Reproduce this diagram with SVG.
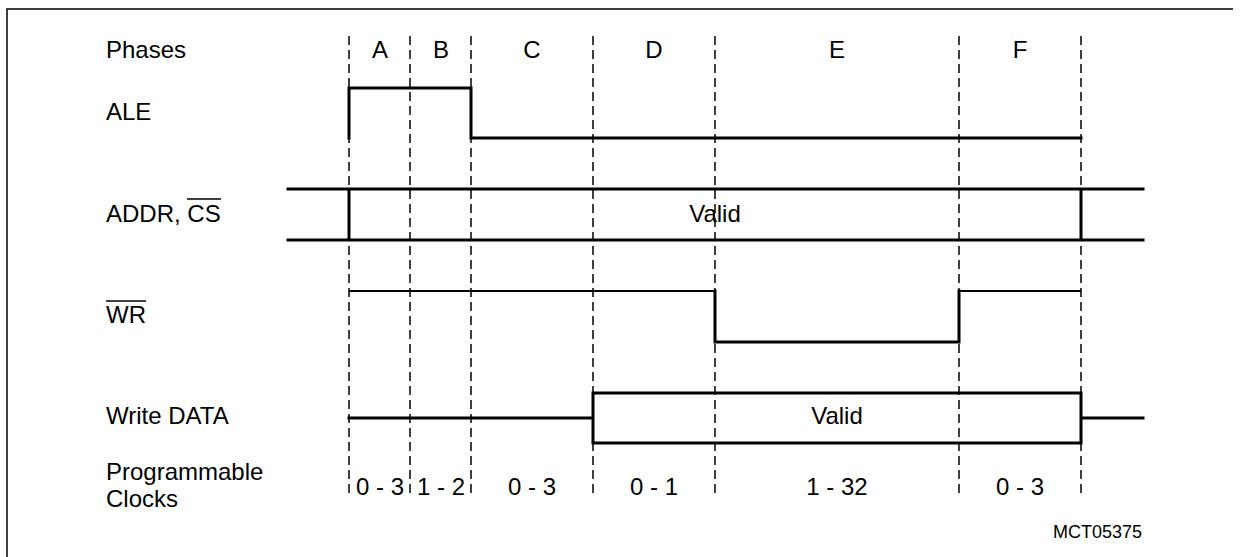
<svg xmlns="http://www.w3.org/2000/svg" width="1242" height="557" viewBox="0 0 1242 557">
<style>
text{font-family:"Liberation Sans",Arial,sans-serif;font-size:24px;fill:#000}
.c{text-anchor:middle}
.grid{stroke:#000;stroke-width:1.5;stroke-dasharray:9,5;fill:none}
.sig{stroke:#000;stroke-width:3;fill:none;stroke-linecap:square}
.thin{stroke:#000;stroke-width:2.2;fill:none}
.ov{stroke:#000;stroke-width:1.3}
</style>
<rect width="1242" height="557" fill="#fff"/>
<g id="frame"><path d="M7 557V9H1233" fill="none" stroke="#000" stroke-width="1.5"/></g>
<g id="grid">
<line class="grid" x1="349" y1="36" x2="349" y2="496"/>
<line class="grid" x1="410" y1="36" x2="410" y2="496"/>
<line class="grid" x1="471" y1="36" x2="471" y2="496"/>
<line class="grid" x1="593" y1="36" x2="593" y2="496"/>
<line class="grid" x1="715" y1="36" x2="715" y2="496"/>
<line class="grid" x1="959" y1="36" x2="959" y2="496"/>
<line class="grid" x1="1081" y1="36" x2="1081" y2="496"/>
</g>
<g id="labels">
<text x="106" y="58">Phases</text>
<text x="106" y="120">ALE</text>
<text x="106" y="222">ADDR, CS</text>
<line class="ov" x1="187" y1="199" x2="221" y2="199"/>
<text x="106" y="323">WR</text>
<line class="ov" x1="106" y1="301" x2="146" y2="301"/>
<text x="106" y="424">Write DATA</text>
<text x="106" y="480">Programmable</text>
<text x="106" y="507">Clocks</text>
</g>
<g id="phases">
<text class="c" x="380" y="58">A</text>
<text class="c" x="441" y="58">B</text>
<text class="c" x="532" y="58">C</text>
<text class="c" x="654" y="58">D</text>
<text class="c" x="837" y="58">E</text>
<text class="c" x="1020" y="58">F</text>
</g>
<g id="ale"><path class="sig" d="M349 138V88H471V138H1081"/></g>
<g id="addr">
<path class="sig" d="M288 189H1143M288 240H1143M349 189V240M1081 189V240"/>
<text class="c" x="715" y="222">Valid</text>
</g>
<g id="wr">
<path class="thin" d="M349 291H715"/>
<path class="sig" d="M715 291V342H959V291"/>
<path class="thin" d="M959 291H1081"/>
</g>
<g id="data">
<path class="sig" d="M349 418H593M1081 418H1143M593 393H1081V443H593Z"/>
<text class="c" x="837" y="424">Valid</text>
</g>
<g id="clocks">
<text class="c" x="380" y="495">0 - 3</text>
<text class="c" x="441" y="495">1 - 2</text>
<text class="c" x="532" y="495">0 - 3</text>
<text class="c" x="654" y="495">0 - 1</text>
<text class="c" x="837" y="495">1 - 32</text>
<text class="c" x="1020" y="495">0 - 3</text>
</g>
<text x="1142" y="538" style="font-size:18px;text-anchor:end">MCT05375</text>
</svg>
